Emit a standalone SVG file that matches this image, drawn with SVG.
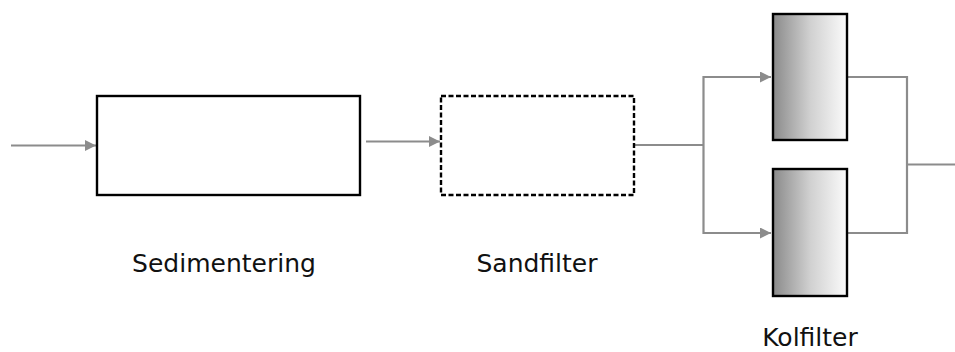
<svg xmlns="http://www.w3.org/2000/svg" width="955" height="352" viewBox="0 0 955 352">
  <style>
    .conn { fill: none; stroke: #8c8c8c; stroke-width: 2.2; }
    .box { fill: #ffffff; stroke: #000000; stroke-width: 2.4; }
    .dashed { stroke-dasharray: 5 2.5; }
    .filter { fill: url(#carbon); stroke: #000000; stroke-width: 2.4; }
    .label { font-family: "DejaVu Sans", Verdana, sans-serif; font-size: 25px; fill: #111111; text-anchor: middle; }
  </style>
  <defs>
    <marker id="arrow" viewBox="0 0 10 10" refX="10" refY="5" markerWidth="11" markerHeight="11" markerUnits="userSpaceOnUse" orient="auto">
      <path d="M0,0 L10,5 L0,10 Z" fill="#8c8c8c"/>
    </marker>
    <linearGradient id="carbon" x1="0" y1="0" x2="1" y2="0">
      <stop offset="0" stop-color="#8a8a8a"/>
      <stop offset="0.5" stop-color="#d0d0d0"/>
      <stop offset="1" stop-color="#fbfbfb"/>
    </linearGradient>
  </defs>

  <g id="connectors">
    <line class="conn" x1="11" y1="145.5" x2="96" y2="145.5" marker-end="url(#arrow)"/>
    <line class="conn" x1="366" y1="141.5" x2="440" y2="141.5" marker-end="url(#arrow)"/>
    <polyline class="conn" points="634,145 703.5,145"/>
    <polyline class="conn" points="771,77 703.5,77 703.5,233 771,233"/>
    <line class="conn" x1="703.5" y1="77" x2="771" y2="77" marker-end="url(#arrow)"/>
    <line class="conn" x1="703.5" y1="233" x2="771" y2="233" marker-end="url(#arrow)"/>
    <polyline class="conn" points="847,77 907,77 907,233 847,233"/>
    <line class="conn" x1="907" y1="164.5" x2="955" y2="164.5"/>
  </g>

  <g id="sedimentering">
    <rect class="box" x="97" y="96" width="263" height="99"/>
    <text class="label" x="224" y="272">Sedimentering</text>
  </g>

  <g id="sandfilter">
    <rect class="box dashed" x="441" y="96" width="193" height="99"/>
    <text class="label" x="537" y="272">Sandfilter</text>
  </g>

  <g id="kolfilter">
    <rect class="filter" x="773" y="14" width="74" height="126"/>
    <rect class="filter" x="773" y="169" width="74" height="127"/>
    <text class="label" x="810" y="346">Kolfilter</text>
  </g>
</svg>
